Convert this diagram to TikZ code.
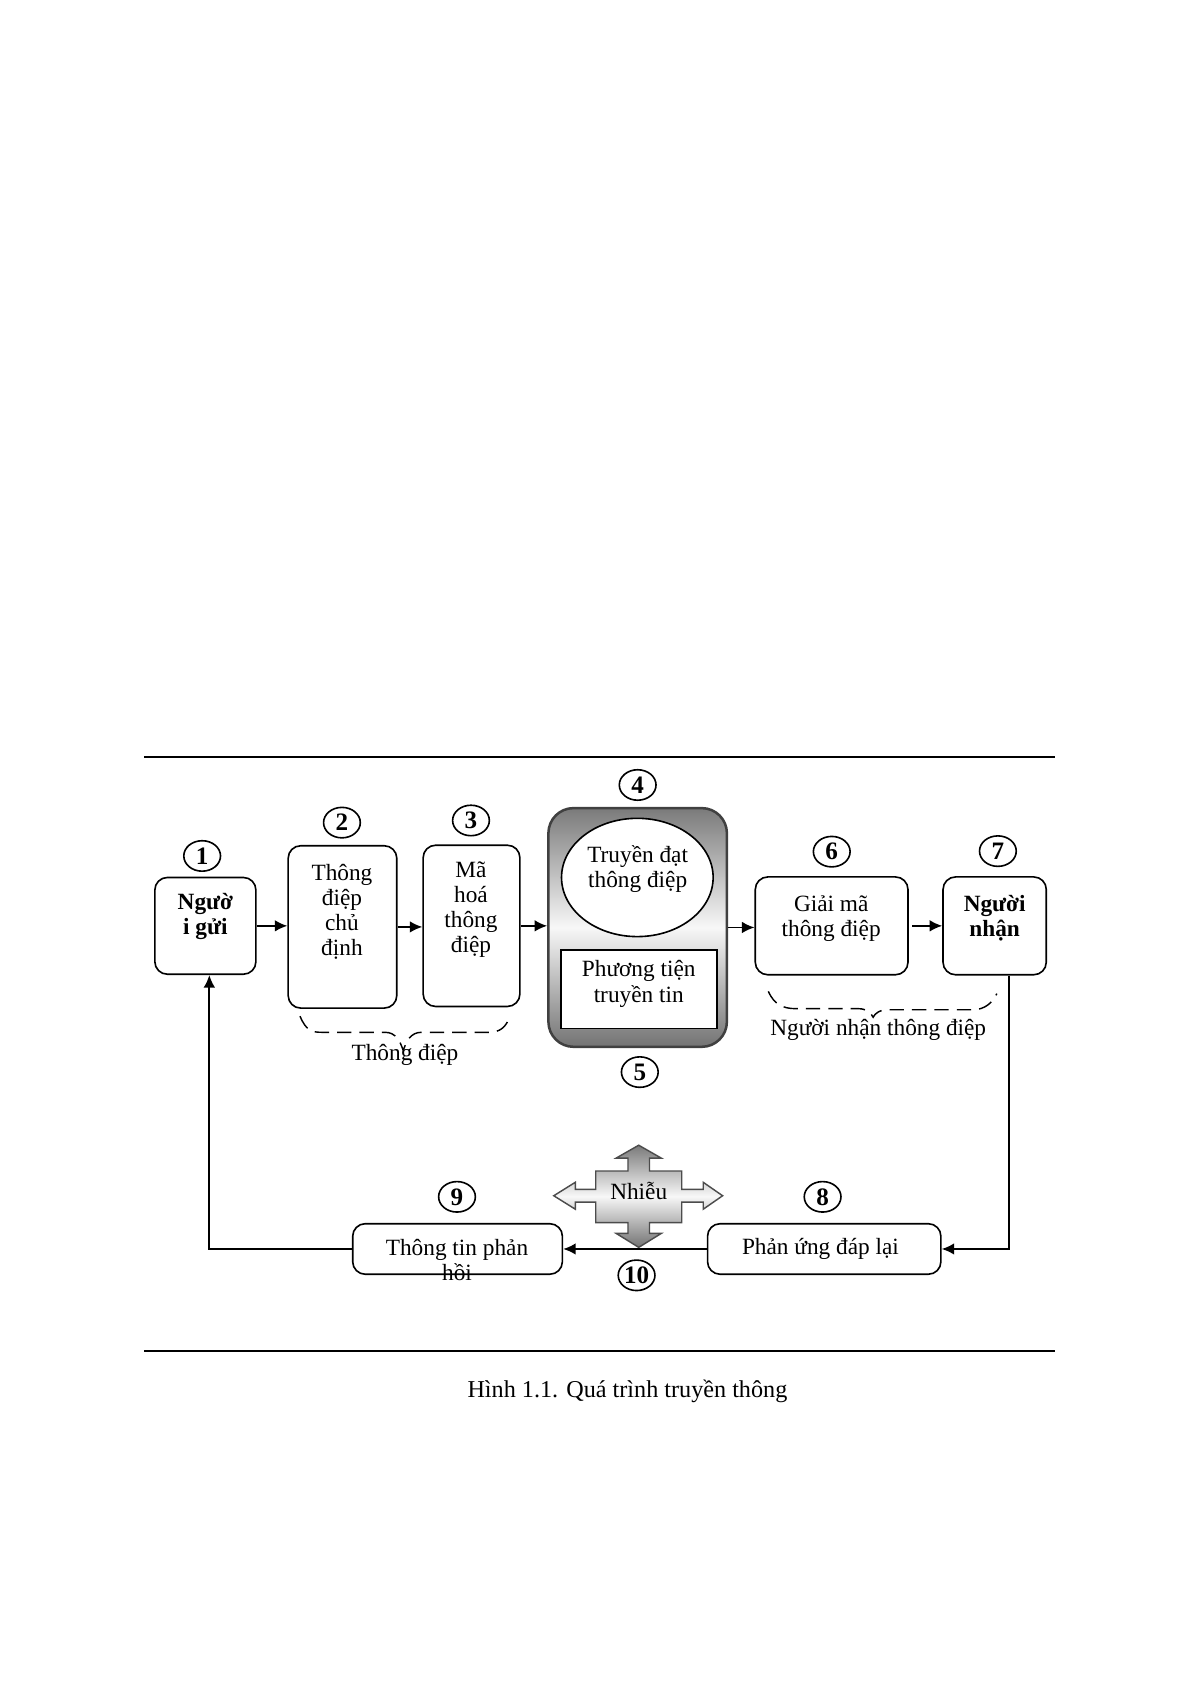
\documentclass[tikz,border=0pt]{standalone}
\usepackage{fontspec}
\setmainfont{Liberation Serif}
\usetikzlibrary{arrows.meta}
\usetikzlibrary{shapes.geometric}
\tikzset{
  txt/.style = {align=center, inner sep=0pt, font=\fontsize{13}{14.1}\selectfont},
  box/.style = {draw, line width=0.9pt, rounded corners=7pt, inner sep=0pt},
  num/.style = {ellipse, draw, fill=white, line width=0.9pt, inner sep=0pt, minimum width=20.5pt, minimum height=17pt, font=\fontsize{14}{15}\selectfont\bfseries},
  flow/.style = {line width=1pt, -{Latex[length=7pt,width=6.5pt]}},
  brace/.style = {line width=0.8pt, dash pattern=on 8pt off 4.5pt},
  gray shade/.style = {top color=black!52, bottom color=black!55, middle color=black!3}
}

\begin{document}
\begin{tikzpicture}[x=0.6pt, y=-0.6pt]
\useasboundingbox (0,0) rectangle (1108.6,1567);

% -- rules above and below
\draw[line width=1.1pt] (134,704) -- (981,704);
\draw[line width=1.1pt] (134,1256) -- (981,1256);

% -- top row, boxes
  \draw (191,861) node[box, minimum width=56.4pt, minimum height=54pt] (b1) {};
  \draw (318.5,862) node[box, minimum width=60.6pt, minimum height=90.6pt] (b2) {};
  \draw (438.5,861) node[box, minimum width=54pt, minimum height=90pt] (b3) {};
  \draw (593,862.5) node[box, draw=black!75, line width=1.4pt, rounded corners=14pt, gray shade, minimum width=99.6pt, minimum height=133.2pt] (b4) {};
  \draw (592.7,816) node[ellipse, draw, fill=white, line width=0.9pt, minimum width=84.6pt, minimum height=66pt] (e4) {};
  \draw (594,920) node[draw, fill=white, line width=0.9pt, minimum width=87pt, minimum height=43.8pt] (m5) {};
  \draw (773.4,861) node[box, minimum width=85.2pt, minimum height=54.6pt] (b6) {};
  \draw (925,861) node[box, minimum width=57.6pt, minimum height=54.6pt] (b7) {};

% -- texts of the top row
  \node[txt, font=\fontsize{13}{14.1}\selectfont\bfseries] (t1) at (191,852) {Ngườ\\i gửi};
  \node[txt] (t2) at (318,848) {Thông\\điệp\\chủ\\định};
  \node[txt] (t3) at (438,846) {Mã\\hoá\\thông\\điệp};
  \node[txt] (t4) at (593,808.5) {Truyền đạt\\thông điệp};
  \node[txt] (t5) at (594,915) {Phương tiện\\truyền tin};
  \node[txt] (t6) at (773,854) {Giải mã\\thông điệp};
  \node[txt, font=\fontsize{13}{14.1}\selectfont\bfseries] (t7) at (925,854) {Người\\nhận};

% -- numbers
  \node[num] (n1) at (188,796) {1};
  \node[num] (n2) at (318,765) {2};
  \node[num] (n3) at (438,763) {3};
  \node[num] (n4) at (593,730) {4};
  \node[num] (n5) at (595,997) {5};
  \node[num] (n6) at (773.5,792) {6};
  \node[num] (n7) at (928,791.5) {7};

% -- arrows of the top row
  \draw[flow] (b1.east) -- (b1.east -| b2.west);
  \draw[flow] (b2.east) -- (b2.east -| b3.west);
  \draw[flow] (b3.east) -- (b3.east -| b4.west);
  \draw[flow] (b4.east) -- (b4.east -| b6.west);
  \draw[flow, shorten <=2pt] (b6.east) -- (b6.east -| b7.west);

% -- dashed braces
  \draw[brace] (279,945) .. controls (285,959) and (290,960) .. (300,960) -- (358,960)
     .. controls (368,960) and (372,968) .. (375,977) .. controls (378,968) and (382,960) .. (392,960)
     -- (455,960) .. controls (465,960) and (470,955) .. (473,948);
  \node[txt] (l1) at (376.6,981) {Thông điệp};

  \draw[brace] (714.5,922) .. controls (720,934) and (728,938) .. (740,938) -- (798,938)
     .. controls (806,938) and (810,942) .. (812,946) .. controls (814,942) and (818,939) .. (827,939)
     -- (905,939) .. controls (915,939) and (923,933) .. (927,924);
  \node[txt] (l2) at (816.7,958) {Người nhận thông điệp};

% -- bottom row
  \draw (766.5,1161.5) node[box, minimum width=130.2pt, minimum height=28.2pt] (b8) {};
  \draw (425.5,1161.5) node[box, minimum width=117pt, minimum height=28.2pt] (b9) {};
  \node[txt] (t8) at (763,1161) {Phản ứng đáp lại};
  \node[txt] (t9) at (425,1172) {Thông tin phản\\hồi};
  \node[num] (n8) at (765,1113) {8};
  \node[num] (n9) at (425,1113) {9};
  \node[num] (n10) at (592,1186) {10};

% -- noise
  \coordinate (nz) at (594,1112);
  \draw[draw=black!70, line width=0.8pt, gray shade] (nz)
     ++(0,-47) -- ++(21,12) -- ++(-11,0) -- ++(0,12) -- ++(30,0) -- ++(0,17)
     -- ++(20,0) -- ++(0,-6.5) -- ++(18,12.5) -- ++(-18,12.5) -- ++(0,-6.5) -- ++(-20,0)
     -- ++(0,19) -- ++(-30,0) -- ++(0,10) -- ++(11,0) -- ++(-21,13) -- ++(-21,-13)
     -- ++(11,0) -- ++(0,-10) -- ++(-30,0) -- ++(0,-19) -- ++(-19,0) -- ++(0,6.5)
     -- ++(-20,-12.5) -- ++(20,-12.5) -- ++(0,6.5) -- ++(19,0) -- ++(0,-17)
     -- ++(30,0) -- ++(0,-12) -- ++(-11,0) -- cycle;
  \node[txt] (t10) at (594,1108) {Nhiễu};

% -- loop back
  \draw[flow] ([xshift=7.8pt]b7.south) |- (b8.east);
  \draw[flow] (b8.west) -- (b9.east);
  \draw[flow] (b9.west) -| ([xshift=2.2pt]b1.south);

\node[txt, font=\fontsize{13.5}{15}\selectfont] (cap) at (583.5,1294.3) {Hình 1.1. Quá trình truyền thông};

\end{tikzpicture}
\end{document}
